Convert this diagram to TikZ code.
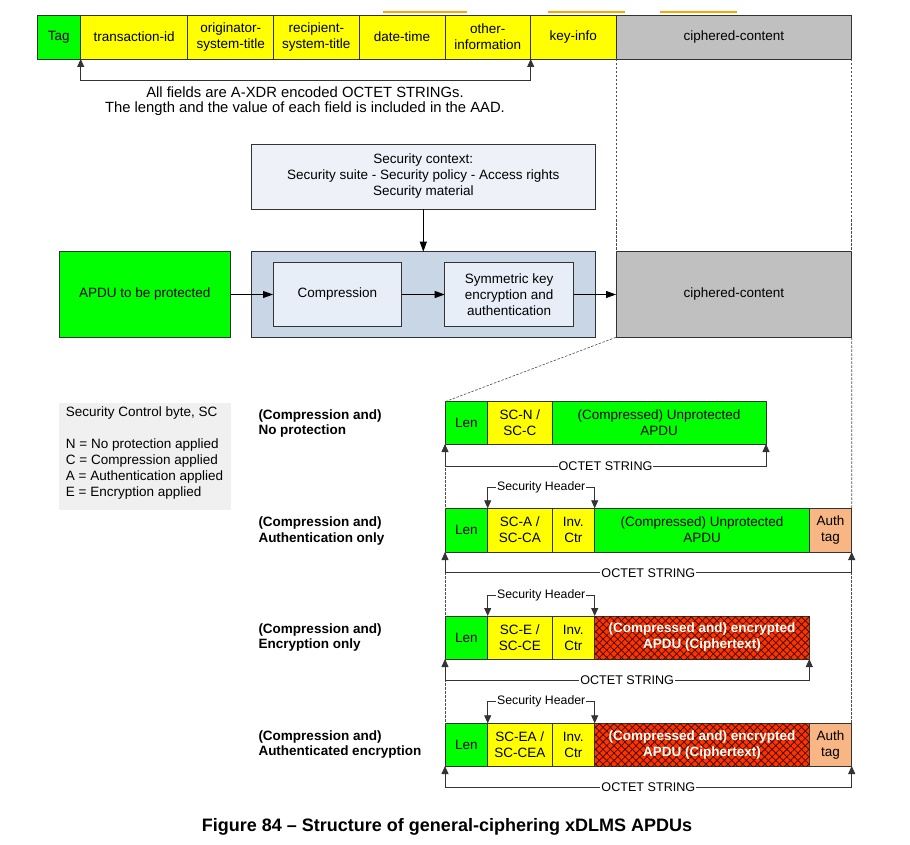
\documentclass[tikz,border=0pt]{standalone}
\usepackage{fontspec}
\setmainfont{Liberation Sans}
\usetikzlibrary{arrows.meta,patterns.meta}
\definecolor{cgreen}{RGB}{0,255,0}
\definecolor{cyellow}{RGB}{255,255,0}
\definecolor{cgrey}{RGB}{192,192,192}
\definecolor{cauth}{RGB}{248,182,132}
\definecolor{cred}{RGB}{255,51,0}
\definecolor{chatch}{RGB}{70,15,0}
\definecolor{couter}{RGB}{200,214,230}
\definecolor{cinner}{RGB}{231,238,248}
\definecolor{cctx}{RGB}{238,242,248}
\definecolor{clegend}{RGB}{240,240,240}
\definecolor{corange}{RGB}{255,165,0}
\newcommand\fsn{\fontsize{13.5}{16}\selectfont}
\newcommand\bx[7]{\node[fld,#6,minimum width={#4pt-#2pt},minimum height={#5pt-#3pt}] (#1) at ({(#2+#4)/2},{(#3+#5)/2}) {#7};}
\tikzset{
  fld/.style={draw=black!80, line width=0.8pt, inner sep=0pt, outer sep=0pt, align=center, font=\fsn, text=black},
  gr/.style={fill=cgreen},
  ye/.style={fill=cyellow},
  gy/.style={fill=cgrey},
  au/.style={fill=cauth},
  enc/.style={fill=cred, text=white, font=\fsn\bfseries,
    postaction={pattern={Lines[angle=45,distance=5.2pt,line width=0.8pt]}, pattern color=chatch},
    postaction={pattern={Lines[angle=-45,distance=5.2pt,line width=0.8pt]}, pattern color=chatch}},
  arr/.style={-{Triangle[length=10pt,width=7pt]}, line width=0.8pt, draw=black},
  dbl/.style={{Triangle[length=8pt,width=7pt]}-{Triangle[length=8pt,width=7pt]}, line width=0.8pt, draw=black!80},
  dsh/.style={draw=black!70, line width=0.6pt, dash pattern=on 2.5pt off 1.5pt},
  octlbl/.style={fill=white, inner sep=1pt, font=\fontsize{12.6}{14}\selectfont},
  shlbl/.style={fill=white, inner sep=1pt, font=\fontsize{12.3}{14}\selectfont},
  rowlbl/.style={anchor=west, align=left, inner sep=0pt, font=\fontsize{13.5}{15.8}\selectfont\bfseries},
  orl/.style={draw=corange, line width=2pt}
}
\begin{document}
\begin{tikzpicture}[x=1pt,y=-1pt]
\useasboundingbox (0,0) rectangle (910,845);
% orange marks
\draw[orl] (383,12.3) -- (467,12.3);
\draw[orl] (547.7,12.3) -- (624.7,12.3);
\draw[orl] (660,12.3) -- (736.7,12.3);
% top bar
\bx{tag}{37}{15}{80.7}{59}{gr}{Tag}
\bx{tid}{80.7}{15}{187.7}{59}{ye}{transaction-id}
\bx{ost}{187.7}{15}{273.7}{59}{ye}{originator-\\system-title}
\bx{rst}{273.7}{15}{359}{59}{ye}{recipient-\\system-title}
\bx{dt}{359}{15}{445}{59}{ye}{date-time}
\bx{oi}{445}{15}{530.7}{59}{ye}{other-\\information}
\bx{ki}{530.7}{15}{616}{59}{ye}{key-info}
\bx{cc}{616}{15}{851.7}{59}{gy}{ciphered-content}
\draw[dbl] (tag.south east) -- ++(0,21) -| (oi.south east);
\node[font=\fontsize{14.8}{16}\selectfont, inner sep=0pt] (n1) at (305,92.5) {All fields are A-XDR encoded OCTET STRINGs.};
\node[font=\fontsize{14.8}{16}\selectfont, inner sep=0pt] (n2) at (305,108.5) {The length and the value of each field is included in the AAD.};
% middle
\bx{ctx}{251.6}{144}{595}{209}{fill=cctx}{Security context:\\Security suite - Security policy - Access rights\\Security material}
\bx{apdu}{59}{251.7}{230.5}{337.3}{gr}{APDU to be protected}
\bx{outer}{251.6}{251.7}{595}{337.3}{fill=couter}{}
\bx{comp}{273}{262.3}{401.8}{326.7}{fill=cinner}{Compression}
\bx{sym}{444.7}{262.3}{573.5}{326.7}{fill=cinner}{Symmetric key\\encryption and\\authentication}
\bx{cc2}{616}{251.7}{851.7}{337.3}{gy}{ciphered-content}
\draw[arr] (ctx.south) -- (outer.north);
\draw[arr] (apdu.east) -- (comp.west);
\draw[arr] (comp.east) -- (sym.west);
\draw[arr] (sym.east) -- (cc2.west);
% legend
\node[fill=clegend, minimum width=172pt, minimum height=107pt, inner sep=0pt, anchor=north west] (leg) at (59,402.3) {};
\node[anchor=north west, align=left, inner sep=0pt, font=\fontsize{13.5}{16}\selectfont] (legtxt) at (65.7,406.5) {Security Control byte, SC\\[16pt]N = No protection applied\\C = Compression applied\\A = Authentication applied\\E = Encryption applied};
% rows
\bx{l1}{445}{401.7}{487.7}{444}{gr}{Len}
\bx{s1}{487.7}{401.7}{552}{444}{ye}{SC-N /\\SC-C}
\bx{p1}{552}{401.7}{766}{444}{gr}{(Compressed) Unprotected\\APDU}
\bx{l2}{445}{508.3}{487.7}{552}{gr}{Len}
\bx{s2}{487.7}{508.3}{552}{552}{ye}{SC-A /\\SC-CA}
\bx{i2}{552}{508.3}{594.7}{552}{ye}{Inv.\\Ctr}
\bx{p2}{594.7}{508.3}{809.3}{552}{gr}{(Compressed) Unprotected\\APDU}
\bx{a2}{809.3}{508.3}{851.7}{552}{au}{Auth\\tag}
\bx{l3}{445}{616}{487.7}{659}{gr}{Len}
\bx{s3}{487.7}{616}{552}{659}{ye}{SC-E /\\SC-CE}
\bx{i3}{552}{616}{594.7}{659}{ye}{Inv.\\Ctr}
\bx{e3}{594.7}{616}{809.3}{659}{enc}{(Compressed and) encrypted\\APDU (Ciphertext)}
\bx{l4}{445}{723.3}{487.7}{766}{gr}{Len}
\bx{s4}{487.7}{723.3}{552}{766}{ye}{SC-EA /\\SC-CEA}
\bx{i4}{552}{723.3}{594.7}{766}{ye}{Inv.\\Ctr}
\bx{e4}{594.7}{723.3}{809.3}{766}{enc}{(Compressed and) encrypted\\APDU (Ciphertext)}
\bx{a4}{809.3}{723.3}{851.7}{766}{au}{Auth\\tag}
% dashed guides
\draw[dsh] (cc.south west) -- (cc2.north west);
\draw[dsh] (cc.south east) -- (cc2.north east);
\draw[dsh] (cc2.south east) -- (a2.north east);
\draw[dsh] (a2.south east) -- (a4.north east);
\draw[dsh] (cc2.south west) -- (l1.north west);
\draw[dsh] (l1.south west) -- (l2.north west);
\draw[dsh] (l2.south west) -- (l3.north west);
\draw[dsh] (l3.south west) -- (l4.north west);
% row labels
\node[rowlbl] (t1) at (258.3,423.5) {(Compression and)\\No protection};
\node[rowlbl] (t2) at (258.3,531) {(Compression and)\\Authentication only};
\node[rowlbl] (t3) at (258.3,637.5) {(Compression and)\\Encryption only};
\node[rowlbl] (t4) at (258.3,744.5) {(Compression and)\\Authenticated encryption};
% octet strings
\draw[dbl] (l1.south west) -- ++(0,22) -| node[octlbl,pos=0.25] (o1) {OCTET STRING} (p1.south east);
\draw[dbl] (l2.south west) -- ++(0,20.7) -| node[octlbl,pos=0.25] (o2) {OCTET STRING} (a2.south east);
\draw[dbl] (l3.south west) -- ++(0,21) -| node[octlbl,pos=0.25] (o3) {OCTET STRING} (e3.south east);
\draw[dbl] (l4.south west) -- ++(0,21.3) -| node[octlbl,pos=0.25] (o4) {OCTET STRING} (a4.south east);
% security headers
\draw[dbl] (s2.north west) -- ++(0,-21) -| node[shlbl,pos=0.25] (h2) {Security Header} (i2.north east);
\draw[dbl] (s3.north west) -- ++(0,-21) -| node[shlbl,pos=0.25] (h3) {Security Header} (i3.north east);
\draw[dbl] (s4.north west) -- ++(0,-21.6) -| node[shlbl,pos=0.25] (h4) {Security Header} (i4.north east);
% caption
\node[font=\fontsize{18}{20}\selectfont\bfseries, inner sep=0pt] (cap) at (447,827) {Figure 84 -- Structure of general-ciphering xDLMS APDUs};
\end{tikzpicture}
\end{document}
